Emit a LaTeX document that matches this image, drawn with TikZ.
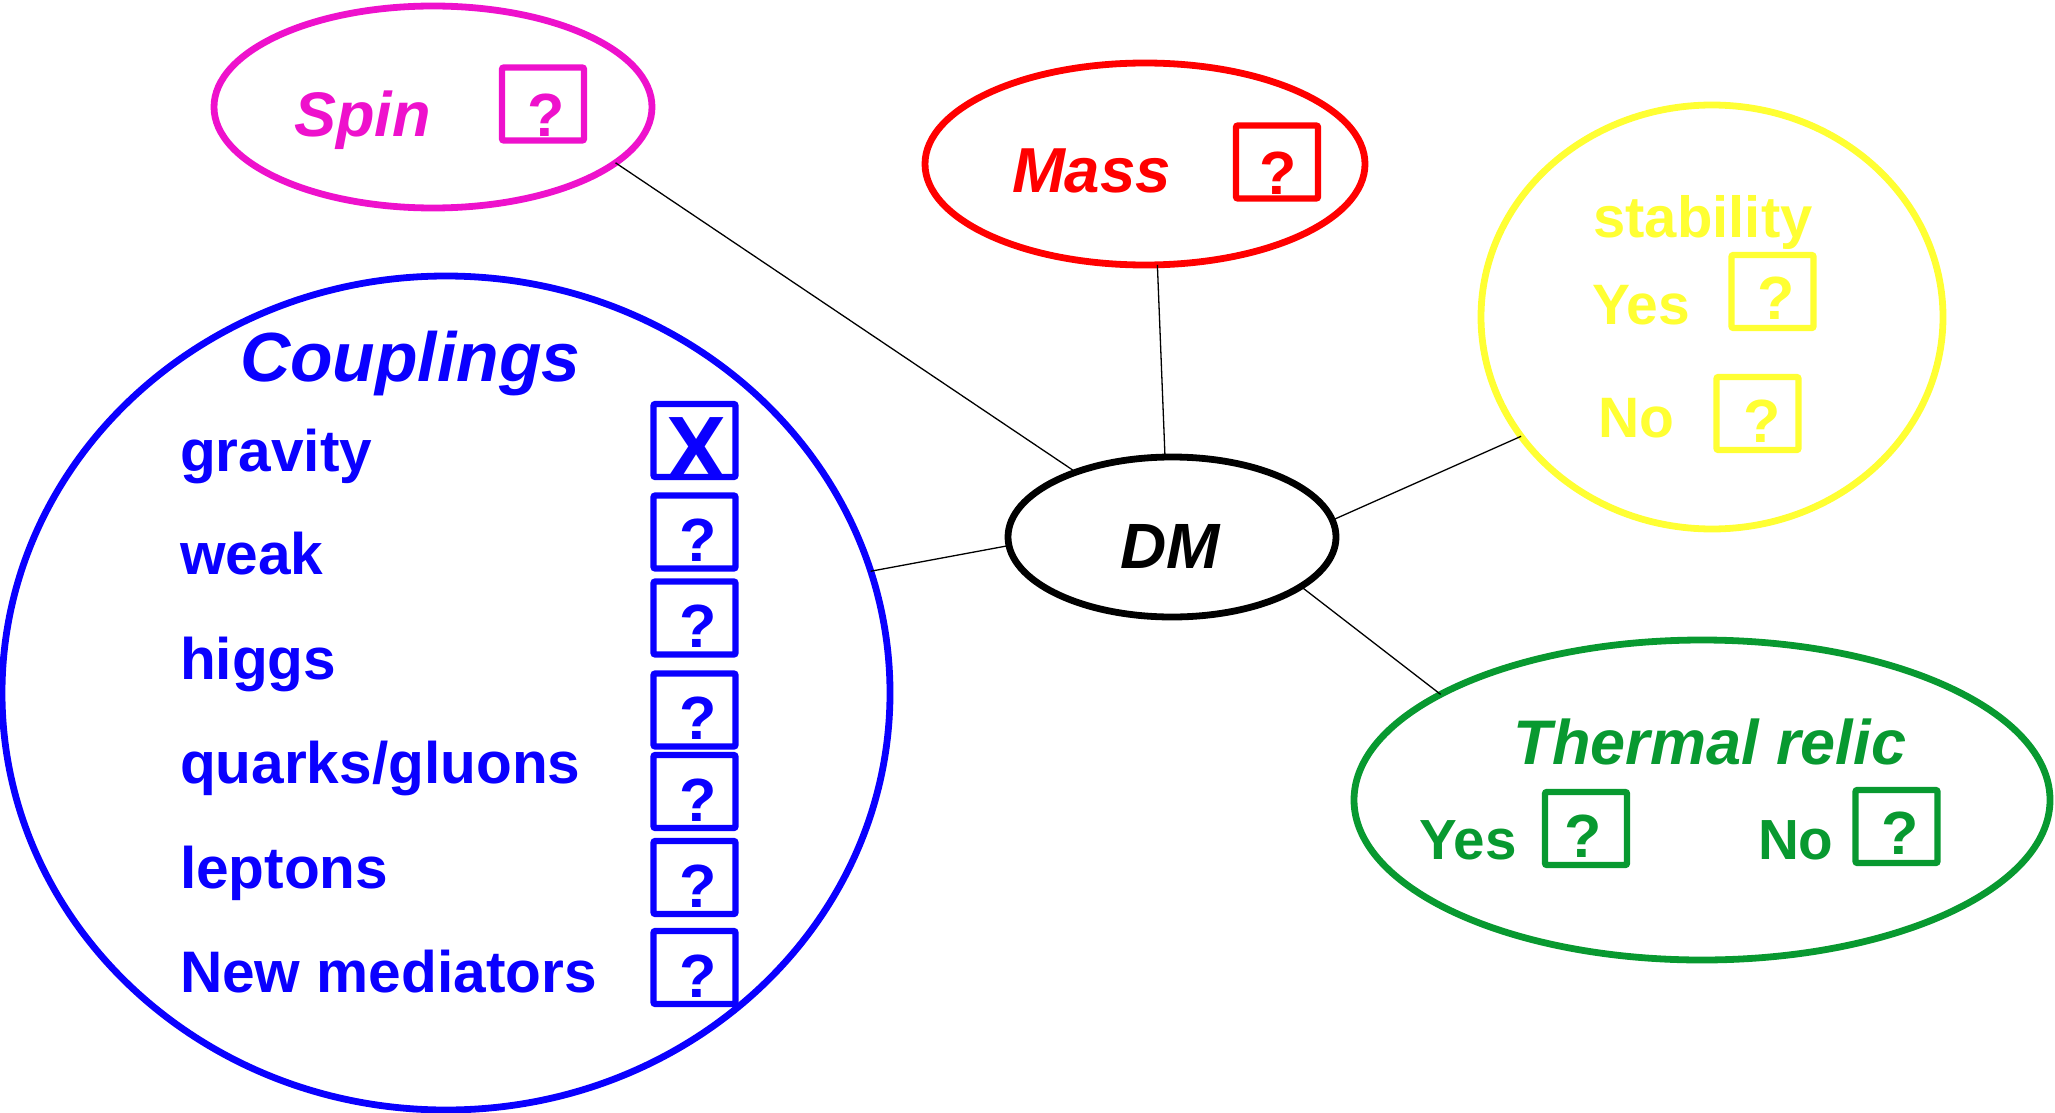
\documentclass[tikz,border=0pt]{standalone}
\usepackage{fontspec}
\setmainfont{Liberation Sans}
\usetikzlibrary{shapes.geometric}
\definecolor{cmag}{RGB}{238,17,204}
\definecolor{cred}{RGB}{255,0,0}
\definecolor{cyel}{RGB}{255,255,51}
\definecolor{cblue}{RGB}{10,0,255}
\definecolor{cgreen}{RGB}{8,153,48}
\newcommand{\fz}[1]{\fontsize{#1}{#1}\selectfont\bfseries}
\begin{document}
\begin{tikzpicture}[x=0.5pt,y=-0.5pt,
  ell/.style={ellipse,draw,line width=3.4pt,inner sep=0pt,outer sep=0pt},
  qbox/.style={rectangle,draw,line width=3.2pt,minimum width=41pt,minimum height=36.5pt,inner sep=0pt,outer sep=0pt,rounded corners=1pt},
  lbl/.style={inner sep=0pt,outer sep=0pt},
  qm/.style={inner sep=0pt,outer sep=0pt,anchor=base,font=\fz{30.5pt}},
  link/.style={draw=black,line width=0.65pt}]
\useasboundingbox (0,0) rectangle (2055,1113);
\clip (0,0) rectangle (2055,1113);

% ---- Spin
\node[ell,draw=cmag,minimum width=219pt,minimum height=101pt] (spin) at (433,107) {};
\node[lbl,text=cmag,font=\fz{31.5pt}\itshape,anchor=base west] (spint) at (294,136) {Spin};
\node[qbox,draw=cmag] (spinb) at (543,104) {};
\node[qm,text=cmag] (spinq) at ([xshift=1.7pt,yshift=2pt]spinb.south) {?};

% ---- Mass
\node[ell,draw=cred,minimum width=220pt,minimum height=101pt] (mass) at (1145,164) {};
\node[lbl,text=cred,font=\fz{31.8pt}\itshape,anchor=base west] (masst) at (1012,192) {Mass};
\node[qbox,draw=cred] (massb) at (1277,162) {};
\node[qm,text=cred] (massq) at ([xshift=0.5pt,yshift=2pt]massb.south) {?};

% ---- DM
\node[ell,draw=black,minimum width=164pt,minimum height=80pt] (dm) at (1172,537) {};
\node[lbl,text=black,font=\fz{32pt}\itshape,anchor=base] (dmt) at (1170,568) {DM};

% ---- stability
\node[ell,draw=cyel,minimum width=231pt,minimum height=212pt] (stab) at (1712,317) {};
\node[lbl,text=cyel,font=\fz{29pt},anchor=base] (stabt) at (1703,237) {stability};
\node[lbl,text=cyel,font=\fz{28.5pt},anchor=base west] (staby) at (1592,324) {Yes};
\node[qbox,draw=cyel] (stabyb) at (1772.5,291.5) {};
\node[qm,text=cyel] (stabyq) at ([xshift=2pt,yshift=4.5pt]stabyb.south) {?};
\node[lbl,text=cyel,font=\fz{28.5pt},anchor=base west] (stabn) at (1598,437) {No};
\node[qbox,draw=cyel] (stabnb) at (1757.5,413.5) {};
\node[qm,text=cyel] (stabnq) at ([xshift=2.2pt,yshift=4pt]stabnb.south) {?};

% ---- Thermal relic
\node[ell,draw=cgreen,minimum width=348pt,minimum height=160pt] (therm) at (1702,800) {};
\node[lbl,text=cgreen,font=\fz{31.5pt}\itshape,anchor=base] (thermt) at (1710,764) {Thermal relic};
\node[lbl,text=cgreen,font=\fz{28.3pt},anchor=base west] (thermy) at (1419,859) {Yes};
\node[qbox,draw=cgreen] (thermyb) at (1586,828.5) {};
\node[qm,text=cgreen] (thermyq) at ([xshift=-1.5pt,yshift=4pt]thermyb.south) {?};
\node[lbl,text=cgreen,font=\fz{28.3pt},anchor=base west] (thermn) at (1758,859) {No};
\node[qbox,draw=cgreen] (thermnb) at (1896.5,826.5) {};
\node[qm,text=cgreen] (thermnq) at ([xshift=2pt,yshift=4.5pt]thermnb.south) {?};

% ---- Couplings
\node[ell,draw=cblue,minimum width=444pt,minimum height=417pt] (coup) at (446,693) {};
\node[lbl,text=cblue,font=\fz{34.8pt}\itshape,anchor=base west] (coupt) at (240,381) {Couplings};
\node[lbl,text=cblue,font=\fz{29.3pt},anchor=base west] (c1) at (180,471) {gravity};
\node[lbl,text=cblue,font=\fz{29.3pt},anchor=base west] (c2) at (180,574) {weak};
\node[lbl,text=cblue,font=\fz{29.3pt},anchor=base west] (c3) at (180,679) {higgs};
\node[lbl,text=cblue,font=\fz{29.3pt},anchor=base west] (c4) at (180,783) {quarks/gluons};
\node[lbl,text=cblue,font=\fz{29.3pt},anchor=base west] (c5) at (180,888) {leptons};
\node[lbl,text=cblue,font=\fz{29.3pt},anchor=base west] (c6) at (180,992) {New mediators};

\node[qbox,draw=cblue] (b1) at (694.5,440.5) {};
\node[inner sep=0pt,outer sep=0pt,anchor=base,font=\fz{45pt},text=cblue] (b1x) at ([xshift=0.8pt,yshift=-1pt]b1.south) {X};
\node[qbox,draw=cblue] (b2) at (694.5,532) {};
\node[qm,text=cblue] (b2q) at ([xshift=2pt,yshift=3.5pt]b2.south) {?};
\node[qbox,draw=cblue] (b3) at (694.5,618) {};
\node[qm,text=cblue] (b3q) at ([xshift=2pt,yshift=3.5pt]b3.south) {?};
\node[qbox,draw=cblue] (b4) at (694.5,710) {};
\node[qm,text=cblue] (b4q) at ([xshift=2pt,yshift=3.5pt]b4.south) {?};
\node[qbox,draw=cblue] (b5) at (694.5,791.5) {};
\node[qm,text=cblue] (b5q) at ([xshift=2pt,yshift=3.5pt]b5.south) {?};
\node[qbox,draw=cblue] (b6) at (694.5,877.5) {};
\node[qm,text=cblue] (b6q) at ([xshift=2pt,yshift=3.5pt]b6.south) {?};
\node[qbox,draw=cblue] (b7) at (694.5,967.5) {};
\node[qm,text=cblue] (b7q) at ([xshift=2pt,yshift=3.5pt]b7.south) {?};

% ---- connectors
\draw[link] (spin.-17) -- (dm.146);
\draw[link] (mass.-83) -- (dm.95);
\draw[link] (dm.6) -- (stab.212);
\draw[link] (dm.-21) -- (therm.158);
\draw[link] (dm.183) -- (coup.16);
\end{tikzpicture}
\end{document}
